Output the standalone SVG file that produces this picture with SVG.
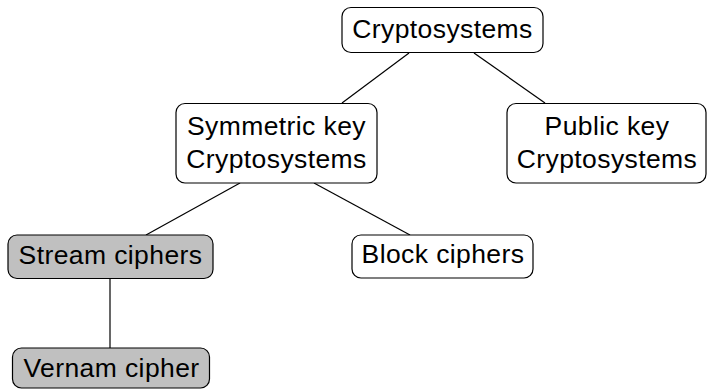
<svg xmlns="http://www.w3.org/2000/svg" width="707" height="390" viewBox="0 0 707 390">
  <style>
    .box { fill: #ffffff; stroke: #000000; stroke-width: 1.2; }
    .box.shaded { fill: #c0c0c0; }
    .label { font-family: "Liberation Sans", Arial, sans-serif; font-size: 26.5px; letter-spacing: 0.4px; fill: #000000; text-anchor: middle; }
    .edge { stroke: #000000; stroke-width: 1.2; fill: none; }
  </style>
  <rect width="707" height="390" fill="#ffffff"/>
  <g id="connectors">
    <line class="edge" x1="409" y1="53" x2="342" y2="103"/>
    <line class="edge" x1="474" y1="53" x2="545" y2="103"/>
    <line class="edge" x1="240" y1="183" x2="146" y2="235"/>
    <line class="edge" x1="314" y1="183" x2="410" y2="235"/>
    <line class="edge" x1="110" y1="279" x2="110" y2="348"/>
  </g>
  <g id="cryptosystems">
    <rect class="box" x="342" y="7.5" width="201" height="45" rx="9"/>
    <text class="label" x="442.5" y="37.5">Cryptosystems</text>
  </g>
  <g id="symmetric-key">
    <rect class="box" x="176" y="103.5" width="201" height="79.5" rx="9"/>
    <text class="label" x="276.5" y="135">Symmetric key</text>
    <text class="label" x="276.5" y="168">Cryptosystems</text>
  </g>
  <g id="public-key">
    <rect class="box" x="507" y="103.5" width="199" height="79.5" rx="9"/>
    <text class="label" x="607" y="135">Public key</text>
    <text class="label" x="607" y="168">Cryptosystems</text>
  </g>
  <g id="stream-ciphers">
    <rect class="box shaded" x="8" y="235" width="205" height="43.5" rx="9"/>
    <text class="label" x="110.5" y="263.5">Stream ciphers</text>
  </g>
  <g id="block-ciphers">
    <rect class="box" x="352" y="235" width="181" height="43" rx="9"/>
    <text class="label" x="443" y="263">Block ciphers</text>
  </g>
  <g id="vernam-cipher">
    <rect class="box shaded" x="12.5" y="348" width="197" height="40" rx="9"/>
    <text class="label" x="111.5" y="377">Vernam cipher</text>
  </g>
</svg>
